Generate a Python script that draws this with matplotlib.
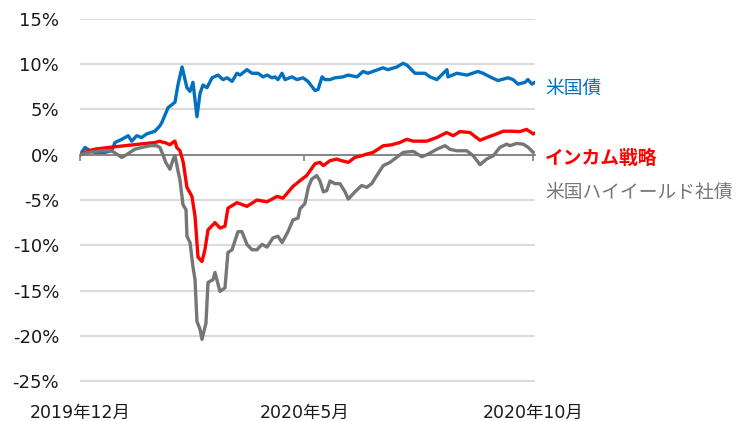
import matplotlib
matplotlib.use("Agg")
import matplotlib.pyplot as plt

# x = days since 2019-12-01, y = cumulative return (%)
tick_days = [0, 152, 307]
tick_labels = ["2019年12月", "2020年5月", "2020年10月"]

ust_days = [0, 3.4, 6.8, 10.2, 16.9, 21.5, 23.7, 28.3, 32.7, 35.1, 38.4, 41.8, 45.2, 50.8,
            54.2, 55.6, 59.7, 64.4, 66.4, 69.2, 72.5, 74.6, 76.6, 79.3, 81.4, 83.4, 86.1,
            89.5, 93.6, 97.0, 99.7, 103.1, 106.4, 108.5, 113.2, 116.6, 120.7, 124.1, 126.8,
            130.2, 132.2, 134.2, 137.0, 139.0, 143.7, 147.1, 151.2, 154.6, 159.3, 161.4,
            164.1, 166.1, 169.5, 172.9, 178.3, 181.7, 187.8, 191.9, 195.3, 198.6, 205.4,
            208.8, 214.9, 219.0, 221.7, 227.1, 233.9, 237.3, 242.0, 248.8, 249.5, 255.6,
            262.4, 269.8, 273.2, 279.3, 283.4, 290.2, 293.6, 297.0, 301.7, 303.7, 306.4, 308.5]
ust_vals = [0.0, 0.8, 0.44, 0.26, 0.26, 0.44, 1.35, 1.7, 2.1, 1.5, 2.1, 1.9, 2.3, 2.6,
            3.2, 3.6, 5.2, 5.8, 7.7, 9.7, 7.4, 7.0, 8.0, 4.2, 6.8, 7.7, 7.4,
            8.5, 8.8, 8.3, 8.5, 8.1, 9.0, 8.8, 9.4, 9.0, 9.0, 8.6, 8.8,
            8.5, 8.6, 8.3, 9.0, 8.3, 8.6, 8.3, 8.5, 8.1, 7.1, 7.2,
            8.6, 8.3, 8.3, 8.5, 8.6, 8.8, 8.6, 9.2, 9.0, 9.2, 9.6,
            9.4, 9.7, 10.1, 9.9, 9.0, 9.0, 8.6, 8.3, 9.4, 8.6, 9.0,
            8.8, 9.2, 9.0, 8.5, 8.2, 8.5, 8.3, 7.8, 8.0, 8.3, 7.8, 8.0]

inc_days = [0, 5.6, 10.2, 19.2, 30.5, 41.8, 50.8, 54.2, 55.6, 57.6, 61.0, 63.2, 64.4, 65.6,
            67.8, 70.0, 72.5, 75.9, 78.0, 80.0, 82.7, 84.7, 86.8, 91.5, 94.9, 98.3, 100.3,
            106.4, 113.2, 120.0, 126.8, 133.6, 137.6, 144.4, 149.2, 153.7, 159.3, 162.7,
            165.0, 169.5, 174.0, 177.4, 181.9, 186.4, 191.0, 194.4, 198.8, 205.6, 211.3,
            217.0, 221.5, 226.0, 235.1, 241.8, 248.6, 253.1, 257.6, 264.4, 271.2, 275.7,
            282.5, 287.0, 291.5, 298.3, 302.8, 307.3, 308.5]
inc_vals = [0.0, 0.44, 0.62, 0.8, 1.0, 1.2, 1.35, 1.5, 1.4, 1.35, 1.1, 1.4, 1.5, 0.8,
            0.44, -0.84, -3.6, -4.6, -6.8, -11.3, -11.8, -10.5, -8.3, -7.5, -8.1, -7.9, -5.9,
            -5.3, -5.7, -5.0, -5.2, -4.6, -4.8, -3.5, -2.86, -2.3, -1.0, -0.84,
            -1.2, -0.66, -0.48, -0.66, -0.84, -0.29, -0.11, 0.07, 0.26, 0.99, 1.1,
            1.36, 1.7, 1.5, 1.5, 1.9, 2.45, 2.1, 2.56, 2.45, 1.6, 1.9,
            2.3, 2.6, 2.6, 2.56, 2.8, 2.3, 2.4]

hy_days = [0, 5.6, 14.7, 21.5, 24.9, 28.3, 30.5, 33.9, 37.3, 41.8, 47.5, 52.0, 54.2, 56.5,
           58.1, 61.0, 63.3, 64.4, 66.6, 67.8, 69.8, 71.9, 72.5, 74.6, 76.6, 78.0, 79.3,
           81.4, 82.7, 85.4, 86.8, 90.2, 91.5, 94.9, 98.3, 100.3, 103.1, 107.1, 109.8,
           113.2, 116.6, 120.0, 123.4, 126.8, 130.8, 134.2, 137.0, 141.0, 144.4, 147.8,
           149.2, 152.5, 154.8, 157.1, 160.5, 162.7, 165.0, 167.3, 169.5, 172.9, 176.3,
           179.7, 181.9, 186.4, 191.0, 194.4, 197.8, 201.2, 205.6, 210.2, 214.7, 219.2,
           226.0, 231.7, 236.1, 241.8, 247.5, 250.8, 255.4, 262.2, 266.6, 271.2, 275.7,
           280.2, 284.7, 289.3, 291.5, 296.1, 300.5, 303.9, 307.3]
hy_vals = [0.0, 0.26, 0.44, 0.44, 0.07, -0.3, -0.1, 0.26, 0.62, 0.8, 1.0, 1.0, 0.8, -0.1,
           -0.84, -1.6, -0.44, -0.1, -1.9, -2.8, -5.5, -6.1, -9.0, -9.7, -12.4, -13.8, -18.4,
           -19.3, -20.4, -18.6, -14.1, -13.8, -13.0, -15.1, -14.7, -10.8, -10.5, -8.5, -8.5,
           -9.9, -10.5, -10.5, -9.9, -10.2, -9.2, -9.0, -9.7, -8.5, -7.2, -7.0,
           -5.97, -5.4, -3.6, -2.7, -2.3, -2.9, -4.1, -3.96, -2.9, -3.2, -3.2,
           -4.1, -4.9, -4.1, -3.4, -3.6, -3.2, -2.3, -1.2, -0.84, -0.29, 0.26,
           0.37, -0.22, 0.07, 0.6, 1.0, 0.6, 0.44, 0.44, -0.11, -1.1, -0.48,
           -0.11, 0.81, 1.17, 1.0, 1.25, 1.17, 0.81, 0.26]

series = [
    ("米国債", ust_days, ust_vals, "#0070C0", 7.3, "normal"),
    ("インカム戦略", inc_days, inc_vals, "#FF0000", -0.35, "bold"),
    ("米国ハイイールド社債", hy_days, hy_vals, "#767676", -4.2, "normal"),
]

fig = plt.figure(figsize=(7.46, 4.21), dpi=100)
ax = fig.add_axes([80 / 746, 1 - 381.5 / 421, 455 / 746, 363 / 421])

for name, xs, ys, color, label_y, weight in series:
    ax.plot(xs, ys, color=color, lw=2.4, zorder=3, solid_joinstyle="round")
    ax.text(1.022, label_y, name, transform=ax.get_yaxis_transform(), color=color,
            fontsize=13.5, fontweight=weight, va="center", ha="left",
            family=["Noto Sans CJK JP", "DejaVu Sans"])

ax.set_xlim(0, 308.5)
ax.set_ylim(-25.05, 15.05)
ax.set_yticks(range(-25, 16, 5))
ax.set_yticklabels([f"{v}%" for v in range(-25, 16, 5)])
ax.yaxis.grid(True, color="#D9D9D9", lw=1.4)
ax.set_axisbelow(True)
ax.tick_params(axis="y", length=0, pad=15, labelsize=13, labelcolor="#1a1a1a")

for side in ["left", "right", "top"]:
    ax.spines[side].set_visible(False)
ax.spines["bottom"].set_position(("data", 0))
ax.spines["bottom"].set_color("#808080")
ax.spines["bottom"].set_linewidth(1.3)
ax.set_xticks(tick_days)
ax.tick_params(axis="x", direction="out", length=4.5, width=1.2, color="#808080",
               labelbottom=False)

sec = ax.secondary_xaxis("bottom")
sec.set_xticks(tick_days)
sec.set_xticklabels(tick_labels, family=["DejaVu Sans", "Noto Sans CJK JP"])
sec.tick_params(length=0, pad=16, labelsize=12.5, labelcolor="#1a1a1a")
sec.spines["bottom"].set_visible(False)

fig.savefig("out.png", dpi=100)
